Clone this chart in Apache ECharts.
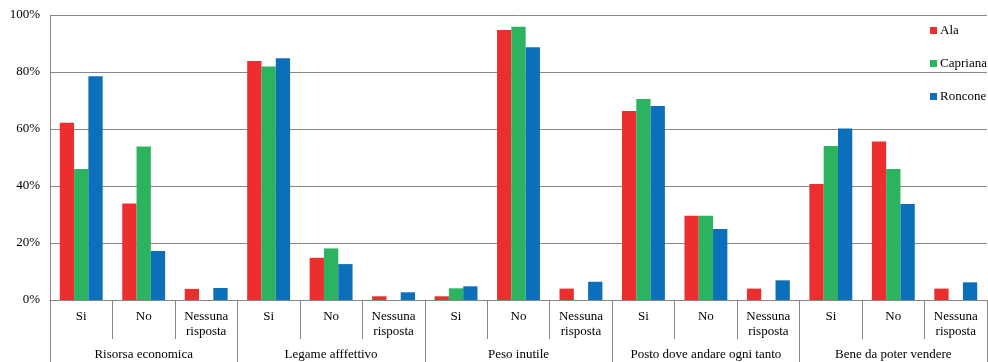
<!DOCTYPE html>
<html>
<head>
<meta charset="utf-8">
<script src="https://cdn.jsdelivr.net/npm/echarts@6/dist/echarts.min.js"></script>
<style>
  html, body { margin: 0; padding: 0; background: #fff; }
  #chart { width: 988px; height: 362px; }
</style>
</head>
<body>
<div id="chart"></div>
<script>
// Answer categories, repeated inside each question group
const answers = ['Si', 'No', 'Nessuna\nrisposta'];
const groups = ['Risorsa economica', 'Legame afffettivo', 'Peso inutile', 'Posto dove andare ogni tanto', 'Bene da poter vendere'];
const categories = groups.flatMap(() => answers);

// Percentages per village (Si, No, Nessuna risposta for each group)
const ala      = [62.2, 33.9, 3.9,  83.9, 14.8, 1.3,  1.3, 94.7, 4.0,  66.3, 29.6, 4.0,  40.7, 55.6, 4.0];
const capriana = [46.0, 53.9, 0,    81.9, 18.1, 0,    4.1, 95.9, 0,    70.5, 29.6, 0,    54.0, 46.0, 0];
const roncone  = [78.5, 17.2, 4.2,  84.8, 12.6, 2.7,  4.8, 88.7, 6.4,  68.1, 24.9, 6.9,  60.2, 33.7, 6.2];

const yTicks = [0, 20, 40, 60, 80, 100];

const seriesNames = ['Ala', 'Capriana', 'Roncone'];
const seriesData = [ala, capriana, roncone];
const colors = ['#ec2e2f', '#2bb35f', '#0b6fba'];

const font = 'Liberation Serif, Times New Roman, serif';
const gray = '#888888';

const chart = echarts.init(document.getElementById('chart'));
chart.setOption({
  animation: false,
  color: colors,
  textStyle: { fontFamily: font },
  grid: { left: 50, right: 1, top: 15, bottom: 62, containLabel: false },
  legend: {
    orient: 'vertical',
    left: 925,
    top: 19,
    icon: 'rect',
    itemWidth: 7,
    itemHeight: 7,
    itemGap: 20,
    data: seriesNames,
    textStyle: { fontFamily: font, fontSize: 13, color: '#000', padding: [0, 0, 0, -2] }
  },
  xAxis: [
    {
      type: 'category',
      data: categories,
      position: 'bottom',
      axisLine: { lineStyle: { color: gray, width: 1 } },
      axisTick: { show: true, length: 39, lineStyle: { color: gray } },
      axisLabel: {
        interval: 0,
        margin: 9,
        fontFamily: font,
        fontSize: 13,
        lineHeight: 15,
        color: '#000',
        verticalAlign: 'top'
      }
    },
    {
      type: 'category',
      data: groups,
      position: 'bottom',
      axisLine: { show: true, lineStyle: { color: gray, width: 1 } },
      axisTick: { show: true, length: 70, lineStyle: { color: gray } },
      axisLabel: {
        interval: 0,
        margin: 48,
        fontFamily: font,
        fontSize: 13,
        color: '#000',
        verticalAlign: 'top'
      }
    }
  ],
  yAxis: {
    type: 'value',
    min: 0,
    max: 100,
    interval: 20,
    axisLine: { show: true, lineStyle: { color: gray, width: 1 } },
    axisTick: { show: false },
    splitLine: { lineStyle: { color: gray, width: 1 } },
    axisLabel: {
      margin: 10,
      fontFamily: font,
      fontSize: 13,
      color: '#000',
      customValues: yTicks,
      formatter: v => v + '%'
    }
  },
  series: seriesNames.map((name, i) => ({
    name,
    type: 'bar',
    xAxisIndex: 0,
    data: seriesData[i],
    barWidth: 14.3,
    barGap: '0%',
    itemStyle: { color: colors[i] }
  }))
});
</script>
</body>
</html>
